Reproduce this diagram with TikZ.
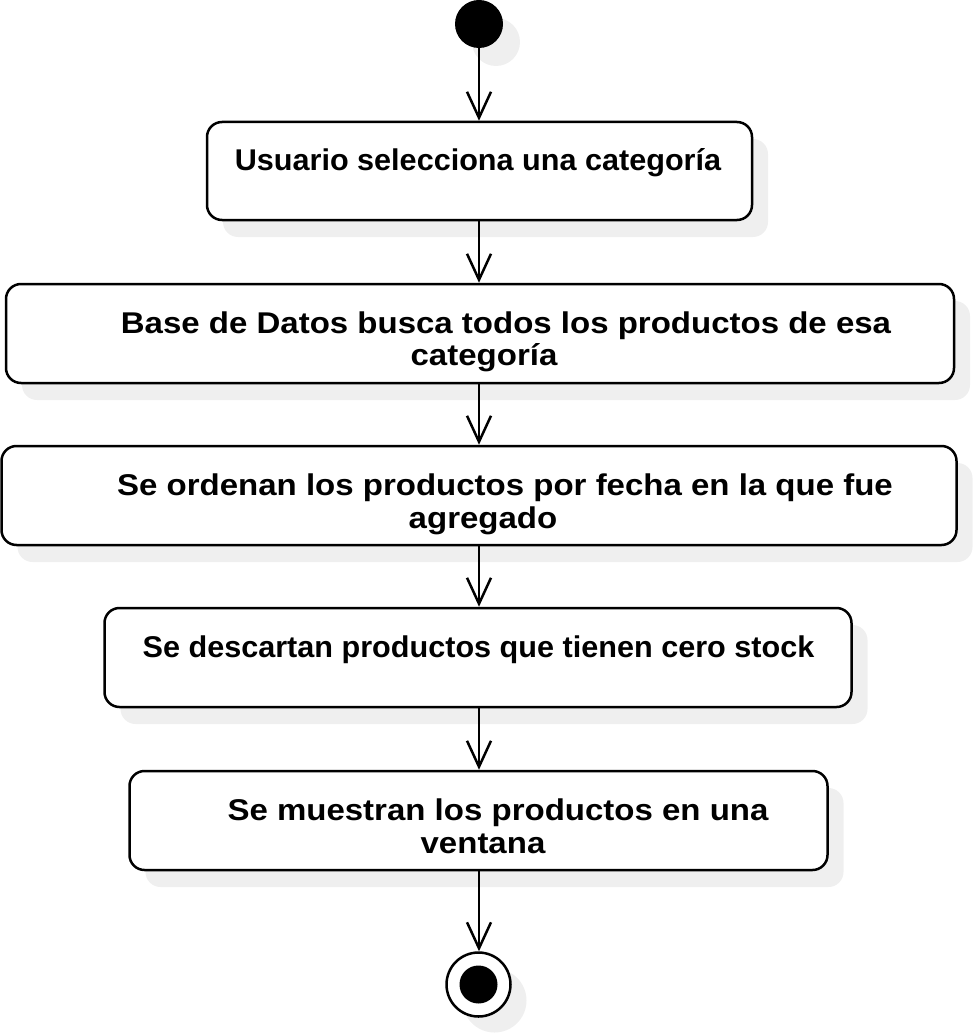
\documentclass[tikz,border=0pt]{standalone}
\usepackage{fontspec}
\usepackage{graphicx}
\setmainfont{Liberation Sans}
\usetikzlibrary{arrows.meta,shadows}
\definecolor{shadowgray}{HTML}{EFEFEF}
\newcommand{\widetxt}[1]{\scalebox{1.1}[1]{#1}}
\newcommand{\sngtxt}[1]{\scalebox{1.02}[1]{#1}}
\tikzset{
  actbox/.style={draw=black, line width=2.5pt, fill=white, rounded corners=15pt,
    inner sep=0pt, drop shadow={shadow xshift=16pt, shadow yshift=-17pt, fill=shadowgray, opacity=1}},
  boxtext/.style={anchor=base, inner sep=0pt, font=\fontsize{30}{33}\selectfont\bfseries},
  flow/.style={line width=2.5pt, -{Straight Barb[length=26pt,width=24pt,line width=2.5pt]}},
  startdot/.style={circle, fill=black, minimum size=48pt, inner sep=0pt,
    drop shadow={shadow xshift=17pt, shadow yshift=-18pt, fill=shadowgray, opacity=1}},
}
\begin{document}
\begin{tikzpicture}[x=1pt,y=-1pt]
\useasboundingbox (0,0) rectangle (974,1035);
% start
\node[startdot] (start) at (479,24) {};
% activity boxes
\node[actbox, minimum width=545pt, minimum height=98pt] (b1) at (479.5,171) {};
\node[actbox, minimum width=948pt, minimum height=99pt] (b2) at (480,333.5) {};
\node[actbox, minimum width=955pt, minimum height=99pt] (b3) at (479,495.5) {};
\node[actbox, minimum width=747pt, minimum height=99pt] (b4) at (478,657.5) {};
\node[actbox, minimum width=698pt, minimum height=99pt] (b5) at (478.5,820.5) {};
% texts
\node[boxtext] (t1) at (478,171) {\sngtxt{Usuario selecciona una categoría}};
\node[boxtext] (t2a) at (506,333) {\widetxt{Base de Datos busca todos los productos de esa}};
\node[boxtext] (t2b) at (484,365) {\widetxt{categoría}};
\node[boxtext] (t3a) at (505,495) {\widetxt{Se ordenan los productos por fecha en la que fue}};
\node[boxtext] (t3b) at (483,528) {\widetxt{agregado}};
\node[boxtext] (t4) at (478.5,657) {\sngtxt{Se descartan productos que tienen cero stock}};
\node[boxtext] (t5a) at (498,820) {\widetxt{Se muestran los productos en una}};
\node[boxtext] (t5b) at (483,853) {\widetxt{ventana}};
% end
\fill[shadowgray] (494.5,1000.5) circle[radius=32];
\node[circle, draw=black, line width=2.5pt, fill=white, minimum size=64pt, inner sep=0pt] (final) at (478.5,984.5) {};
\node[circle, fill=black, minimum size=38pt, inner sep=0pt] (finaldot) at (final) {};
% connectors
\draw[flow] (start.south) -- (b1.north -| start);
\draw[flow] (b1.south -| start) -- (b2.north -| start);
\draw[flow] (b2.south -| start) -- (b3.north -| start);
\draw[flow] (b3.south -| start) -- (b4.north -| start);
\draw[flow] (b4.south -| start) -- (b5.north -| start);
\draw[flow] (b5.south -| start) -- (final.north -| start);
\end{tikzpicture}
\end{document}
